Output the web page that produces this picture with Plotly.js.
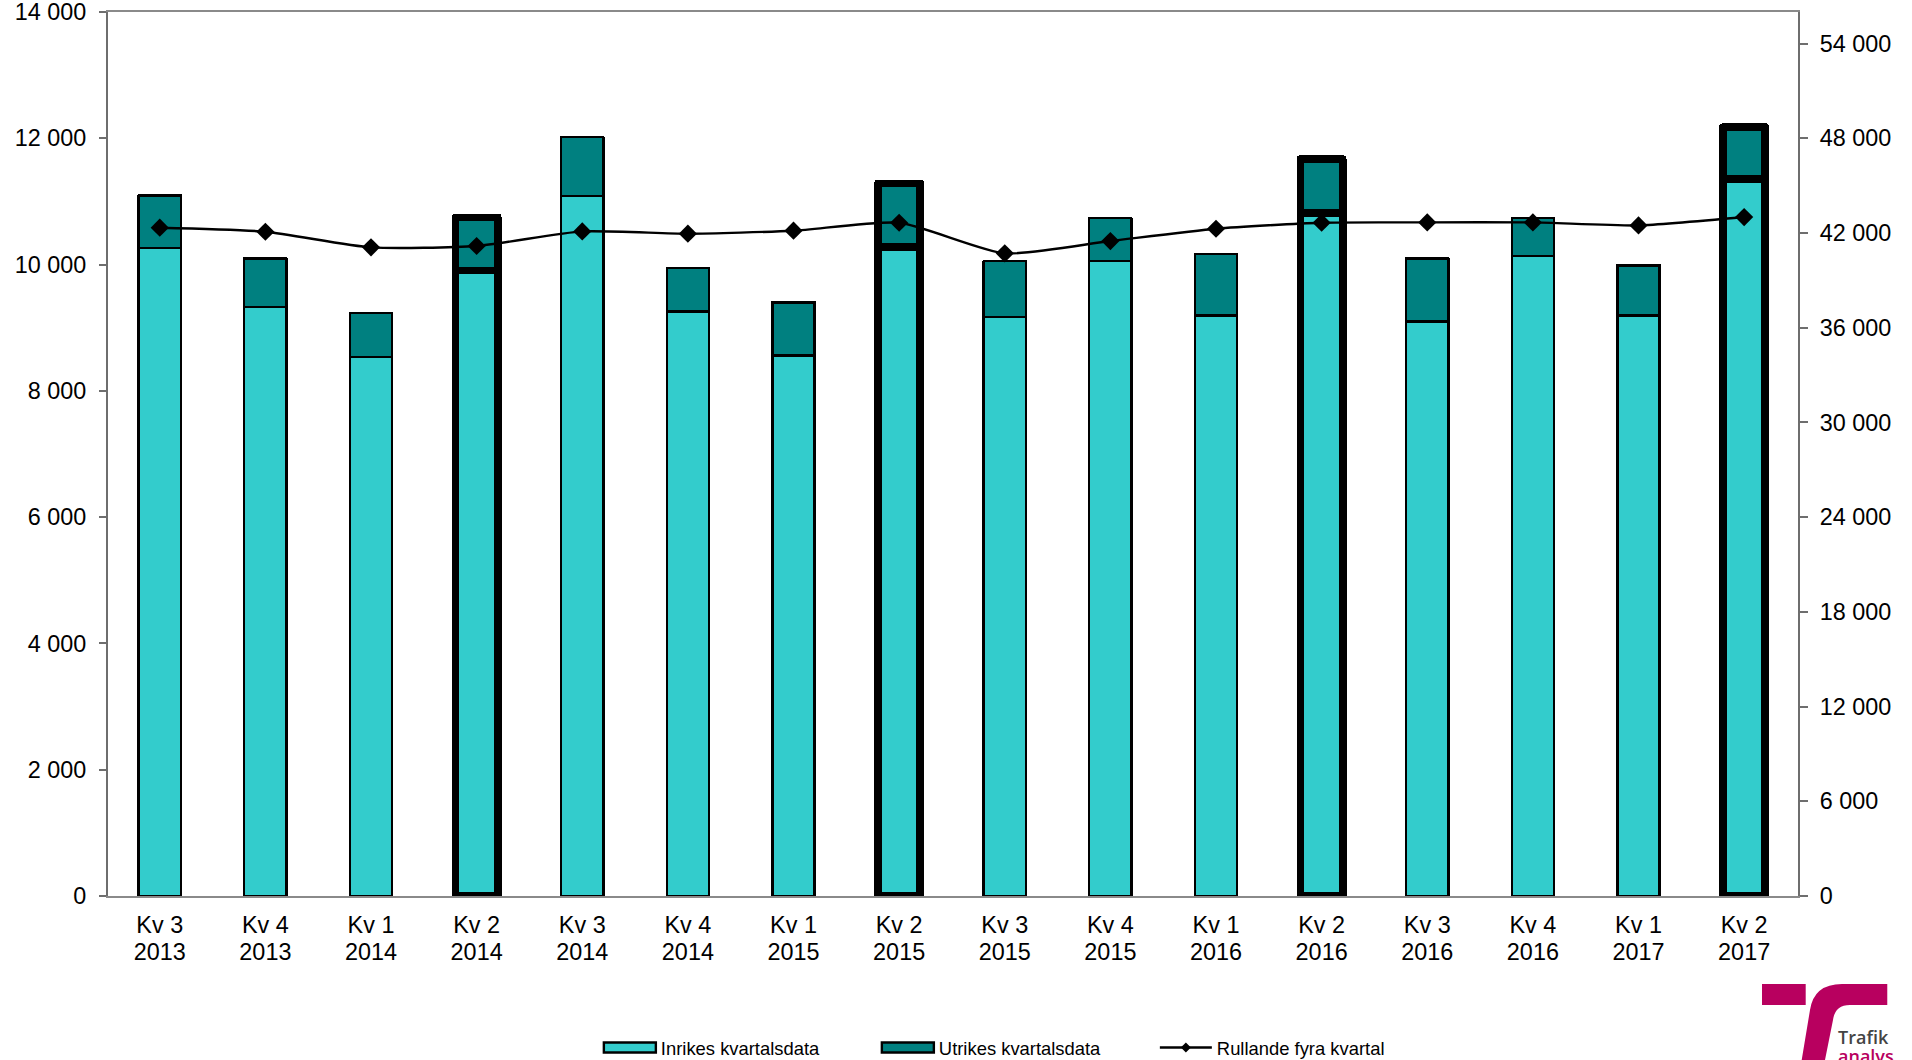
<!DOCTYPE html>
<html>
<head>
<meta charset="utf-8">
<script src="https://cdn.plot.ly/plotly-3.0.1.min.js"></script>
<style>
html,body{margin:0;padding:0;background:#fff;overflow:hidden}
#chart{width:1912px;height:1060px}
.barlayer .point path{stroke-linejoin:round}
</style>
</head>
<body>
<div id="chart"></div>
<script>
const categories = ["Kv 3<br>2013","Kv 4<br>2013","Kv 1<br>2014","Kv 2<br>2014","Kv 3<br>2014","Kv 4<br>2014","Kv 1<br>2015","Kv 2<br>2015","Kv 3<br>2015","Kv 4<br>2015","Kv 1<br>2016","Kv 2<br>2016","Kv 3<br>2016","Kv 4<br>2016","Kv 1<br>2017","Kv 2<br>2017"];
const inrikes = [10261,9332,8535,9908,11090,9258,8562,10282,9174,10060,9195,10820,9100,10140,9195,11357];
const utrikes = [834,766,697,839,934,692,839,1003,886,676,976,850,998,601,792,820];
const rullande = [42335,42080,41090,41175,42100,41955,42145,42650,40710,41490,42270,42650,42670,42670,42480,43010];
const borderWidths = [2.4,2.4,2.4,7.6,2.4,2.4,2.4,7.6,2.4,2.4,2.4,7.6,2.4,2.4,2.4,7.6];
const leftTicks = [0,2000,4000,6000,8000,10000,12000,14000];
const rightTicks = [0,6000,12000,18000,24000,30000,36000,42000,48000,54000];
const fmt = v => String(v).replace(/\B(?=(\d{3})+$)/g, " ");

const W = 1912, H = 1060;
const L = 107.5, R = 114, T = 12, B = 164;
const px = x => (x - L) / (W - L - R), py = y => (H - B - y) / (H - T - B);
const FONT = '"Liberation Sans", Arial, sans-serif';
const logoPath = "M " + px(1762) + " " + py(984) + " L " + px(1805.7) + " " + py(984) + " L " + px(1805.7) + " " + py(1005) + " L " + px(1762) + " " + py(1005) + " Z " +
  "M " + px(1842) + " " + py(984) + " L " + px(1887.3) + " " + py(984) + " L " + px(1887.3) + " " + py(1005) + " L " + px(1850) + " " + py(1005) +
  " Q " + px(1835) + " " + py(1005) + " " + px(1833) + " " + py(1020) + " L " + px(1825) + " " + py(1060) + " L " + px(1801.7) + " " + py(1060) +
  " L " + px(1810) + " " + py(1010) + " Q " + px(1814) + " " + py(984) + " " + px(1842) + " " + py(984) + " Z";

const traces = [
  {type:"bar", name:"Inrikes kvartalsdata", x:categories, y:inrikes, width:0.4, cliponaxis:false,
   marker:{color:"#33CCCC", line:{color:"#000", width:borderWidths}}},
  {type:"bar", name:"Utrikes kvartalsdata", x:categories, y:utrikes, width:0.4, cliponaxis:false,
   marker:{color:"#008080", line:{color:"#000", width:borderWidths}}},
  {type:"scatter", mode:"lines+markers", name:"Rullande fyra kvartal", x:categories, y:rullande, yaxis:"y2", cliponaxis:false,
   line:{color:"#000", width:2.4, shape:"spline", smoothing:0.6},
   marker:{symbol:"diamond", size:14, color:"#000"}}
];

const axisCol = "#6e6e6e";
const layout = {
  width:W, height:H, paper_bgcolor:"#fff", plot_bgcolor:"#fff",
  font:{family:FONT, size:23.4, color:"#000"},
  margin:{l:L, r:R, t:T, b:B, pad:0, autoexpand:false},
  barmode:"stack", showlegend:true,
  xaxis:{type:"category", categoryorder:"array", categoryarray:categories, range:[-0.49,15.51],
         showgrid:false, zeroline:false, showline:true, linecolor:"#8a8a8a", linewidth:2, mirror:true,
         ticks:"", ticklen:0, tickangle:0, ticklabelstandoff:7, tickfont:{size:23.4, family:FONT}, automargin:false},
  yaxis:{range:[0,14000], tickmode:"array", tickvals:leftTicks, ticktext:leftTicks.map(fmt),
         showgrid:false, zeroline:false, showline:true, linecolor:axisCol, linewidth:2,
         ticks:"outside", ticklen:7, tickwidth:2, tickcolor:axisCol, ticklabelstandoff:8, ticklabeloverflow:"allow",
         tickfont:{size:23.4, family:FONT}, automargin:false},
  yaxis2:{range:[0,56000], overlaying:"y", side:"right", tickmode:"array", tickvals:rightTicks, ticktext:rightTicks.map(fmt),
         showgrid:false, zeroline:false, showline:true, linecolor:axisCol, linewidth:2,
         ticks:"outside", ticklen:8, tickwidth:2, tickcolor:axisCol, ticklabelstandoff:7, ticklabeloverflow:"allow",
         tickfont:{size:23.4, family:FONT}, automargin:false},
  legend:{orientation:"h", x:px(598.5), xanchor:"left", y:py(1029), yanchor:"top", itemwidth:52,
          entrywidth:211, entrywidthmode:"pixels", font:{size:18.4, family:FONT}, traceorder:"normal",
          bgcolor:"rgba(0,0,0,0)", itemclick:false, itemdoubleclick:false, tracegroupgap:0},
  shapes:[{type:"path", xref:"paper", yref:"paper", path:logoPath, fillcolor:"#B8005F", line:{width:0}, layer:"above"}],
  annotations:[
    {text:"Trafik", xref:"paper", yref:"paper", x:px(1836), y:py(1037), xanchor:"left", yanchor:"middle", showarrow:false,
     font:{family:'"Open Sans", sans-serif', size:18, color:"#444", weight:600}},
    {text:"analys", xref:"paper", yref:"paper", x:px(1836), y:py(1056), xanchor:"left", yanchor:"middle", showarrow:false,
     font:{family:'"Open Sans", sans-serif', size:18, color:"#B8005F", weight:600}}
  ]
};

function tweak(gd){
  gd.querySelectorAll(".xaxislayer-above .xtick text tspan.line").forEach(t => {
    if (t.getAttribute("dy") && t.getAttribute("dy") !== "0em") t.setAttribute("dy", "1.14em");
  });
  const items = gd.querySelectorAll(".legend .traces");
  [0,1].forEach(i => {
    if (!items[i]) return;
    items[i].querySelectorAll(".legendpoints path").forEach(p => {
      p.setAttribute("d", "M26,5H-26V-5H26Z");
      p.style.strokeWidth = "2.4px";
    });
  });
  if (items[2]) {
    items[2].querySelectorAll(".legendpoints path").forEach(p => {
      if (!p.dataset.scaled) {
        p.dataset.scaled = "1";
        p.setAttribute("transform", (p.getAttribute("transform") || "") + " scale(0.55)");
      }
    });
  }
}
Plotly.newPlot("chart", traces, layout, {staticPlot:true, displayModeBar:false}).then(gd => {
  tweak(gd);
  requestAnimationFrame(() => tweak(gd));
  setTimeout(() => tweak(gd), 100);
});
</script>
</body>
</html>
